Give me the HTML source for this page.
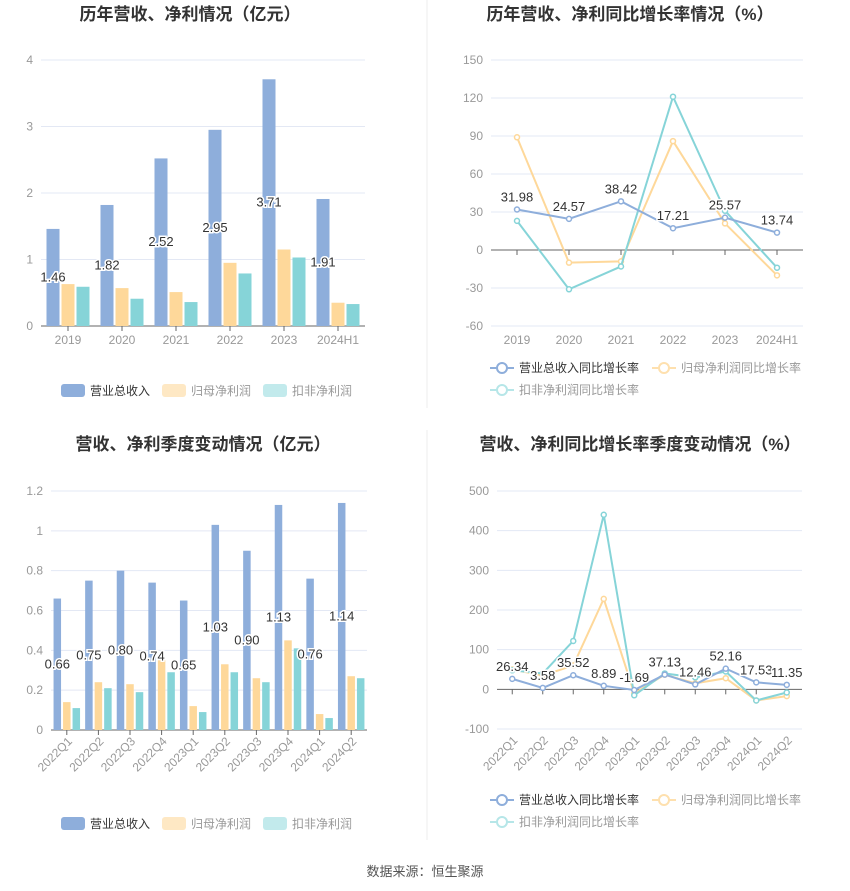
<!DOCTYPE html>
<html><head><meta charset="utf-8"><style>
body{margin:0;background:#fff;font-family:"Liberation Sans","Noto Sans CJK SC",sans-serif}
svg{display:block}
</style></head><body>
<svg id="s" width="850" height="891" xmlns="http://www.w3.org/2000/svg" font-family="Liberation Sans, Noto Sans CJK SC, sans-serif">
<line x1="427" y1="0" x2="427" y2="408" stroke="#eee"/>
<line x1="427" y1="430" x2="427" y2="840" stroke="#eee"/>
<text x="190" y="20" text-anchor="middle" font-size="17" font-weight="bold" fill="#333">历年营收、净利情况（亿元）</text>
<text x="630" y="20" text-anchor="middle" font-size="17" font-weight="bold" fill="#333">历年营收、净利同比增长率情况（%）</text>
<text x="203" y="450" text-anchor="middle" font-size="17" font-weight="bold" fill="#333">营收、净利季度变动情况（亿元）</text>
<text x="640" y="450" text-anchor="middle" font-size="17" font-weight="bold" fill="#333">营收、净利同比增长率季度变动情况（%）</text>
<text x="425" y="876" text-anchor="middle" font-size="13" fill="#555">数据来源：恒生聚源</text>
</svg>
<script>
const annualCats=["2019","2020","2021","2022","2023","2024H1"];
const annualRev=[1.46,1.82,2.52,2.95,3.71,1.91];
const annualNet=[0.63,0.57,0.51,0.95,1.15,0.35];
const annualDed=[0.59,0.41,0.36,0.79,1.03,0.33];
const annualTicks=[0,1,2,3,4];
const annualRevG=[31.98,24.57,38.42,17.21,25.57,13.74];
const annualNetG=[89,-10,-9,86,21,-20];
const annualDedG=[23,-31,-13,121,31,-14];
const annualGTicks=[-60,-30,0,30,60,90,120,150];
const qCats=["2022Q1","2022Q2","2022Q3","2022Q4","2023Q1","2023Q2","2023Q3","2023Q4","2024Q1","2024Q2"];
const qRev=[0.66,0.75,0.80,0.74,0.65,1.03,0.90,1.13,0.76,1.14];
const qNet=[0.14,0.24,0.23,0.35,0.12,0.33,0.26,0.45,0.08,0.27];
const qDed=[0.11,0.21,0.19,0.29,0.09,0.29,0.24,0.41,0.06,0.26];
const qTicks=[0,0.2,0.4,0.6,0.8,1,1.2];
const qRevG=[26.34,3.58,35.52,8.89,-1.69,37.13,12.46,52.16,17.53,11.35];
const qNetG=[50,35,60,228,-10,37,15,28,-28,-17];
const qDedG=[48,40,122,440,-15,40,30,45,-28,-8];
const qGTicks=[-100,0,100,200,300,400,500];

const S=document.getElementById('s');const NS="http://www.w3.org/2000/svg";
function el(t,a,txt){const e=document.createElementNS(NS,t);for(const k in a)e.setAttribute(k,a[k]);if(txt!==undefined)e.textContent=txt;S.appendChild(e);return e;}
const C1="#8eaedb",C2="#fed89a",C3="#86d4d8";
function axes(x0,x1,yTop,yBot,min,max,ticks,cats,rot,labelX){
  const y=v=>yBot-(v-min)/(max-min)*(yBot-yTop);
  const band=(x1-x0)/cats.length;
  const lx=labelX||x0-8;
  ticks.forEach(t=>{
    const g=el('line',{x1:x0,x2:x1,y1:y(t),y2:y(t),stroke:t===0?'#666':'#e3e8f4'});
    
    
    const l=el('text',{x:lx,y:y(t)+4,'text-anchor':'end','font-size':12,fill:'#999'},t);
    
    
  });
  cats.forEach((c,i)=>{
    const cx=x0+band*(i+0.5);
    const tk=el('line',{x1:cx,x2:cx,y1:y(0),y2:y(0)+5,stroke:'#666'});
    
    
    let t;
    if(rot){t=el('text',{x:cx+6,y:yBot+12,'text-anchor':'end','font-size':12,fill:'#999',transform:`rotate(-45 ${cx+6} ${yBot+12})`},c);}
    else t=el('text',{x:cx,y:yBot+18,'text-anchor':'middle','font-size':12,fill:'#999'},c);
    
    
  });
  return {y,band,x:i=>x0+band*(i+0.5)};
}
function bars(ax,series,bw,labelVals){
  series.forEach((s,k)=>{
    s.v.forEach((v,i)=>{
      const x=ax.x(i)+(k-1)*(bw+2)-bw/2;
      const r=el('rect',{x,y:ax.y(v),width:bw,height:ax.y(0)-ax.y(v),fill:s.c});
      
      
    });
  });
  labelVals.forEach((v,i)=>{
    const t=el('text',{x:ax.x(i)-(bw+2),y:ax.y(v/2)+4,'text-anchor':'middle','font-size':13,fill:'#333',stroke:'#fff','stroke-width':3,'paint-order':'stroke'},v.toFixed(2));
    
    
  });
}
function lines(ax,series,labelVals){
  series.forEach(s=>{
    const p=el('polyline',{points:s.v.map((v,i)=>ax.x(i)+','+ax.y(v)).join(' '),fill:'none',stroke:s.c,'stroke-width':2});
    
    
    s.v.forEach((v,i)=>{
      const c=el('circle',{cx:ax.x(i),cy:ax.y(v),r:2.5,fill:'#fff',stroke:s.c,'stroke-width':1.5});
      
      
    });
  });
  labelVals.forEach((v,i)=>{
    const t=el('text',{x:ax.x(i),y:ax.y(v)-8,'text-anchor':'middle','font-size':13,fill:'#333',stroke:'#fff','stroke-width':3,'paint-order':'stroke'},v.toFixed(2));
    
    
  });
}
function barLegend(cx,y){
  const items=[["营业总收入",C1,"#333"],["归母净利润","#fee8c4","#999"],["扣非净利润","#c2eaec","#999"]];
  let x=cx-144;
  items.forEach(it=>{
    const r=el('rect',{x,y:y-6,width:24,height:13,rx:3,fill:it[1]});
    
    
    const t=el('text',{x:x+29,y:y+5,'font-size':12,fill:it[2]},it[0]);
    
    
    x+=101;
  });
}
function lineLegend(x0,y){
  const items=[["营业总收入同比增长率",C1,"#333",x0,y],["归母净利润同比增长率","#fee0ae","#999",x0+162,y],["扣非净利润同比增长率","#b6e6e8","#999",x0,y+22]];
  items.forEach(it=>{
    const l=el('line',{x1:it[3],x2:it[3]+24,y1:it[4],y2:it[4],stroke:it[1],'stroke-width':2});
    
    
    const c=el('circle',{cx:it[3]+12,cy:it[4],r:5,fill:'#fff',stroke:it[1],'stroke-width':2});
    
    
    const t=el('text',{x:it[3]+29,y:it[4]+4,'font-size':12,fill:it[2]},it[0]);
    
    
  });
}
let a=axes(41,365,60,326,0,4,annualTicks,annualCats,false);
bars(a,[{v:annualRev,c:C1,n:'revenue'},{v:annualNet,c:C2,n:'net-profit'},{v:annualDed,c:C3,n:'deducted-profit'}],13,annualRev);
barLegend(205,390);
a=axes(491,803,60,326,-60,150,annualGTicks,annualCats,false);
lines(a,[{v:annualNetG,c:C2,n:'net-growth'},{v:annualDedG,c:C3,n:'deducted-growth'},{v:annualRevG,c:C1,n:'revenue-growth'}],annualRevG);
lineLegend(490,368);
a=axes(51,367,491,730,0,1.2,qTicks,qCats,true,43);
bars(a,[{v:qRev,c:C1,n:'revenue'},{v:qNet,c:C2,n:'net-profit'},{v:qDed,c:C3,n:'deducted-profit'}],7.5,qRev);
barLegend(205,823);
a=axes(497,802,491,729,-100,500,qGTicks,qCats,true);
lines(a,[{v:qNetG,c:C2,n:'net-growth'},{v:qDedG,c:C3,n:'deducted-growth'},{v:qRevG,c:C1,n:'revenue-growth'}],qRevG);
lineLegend(490,800);
</script>
</body></html>
